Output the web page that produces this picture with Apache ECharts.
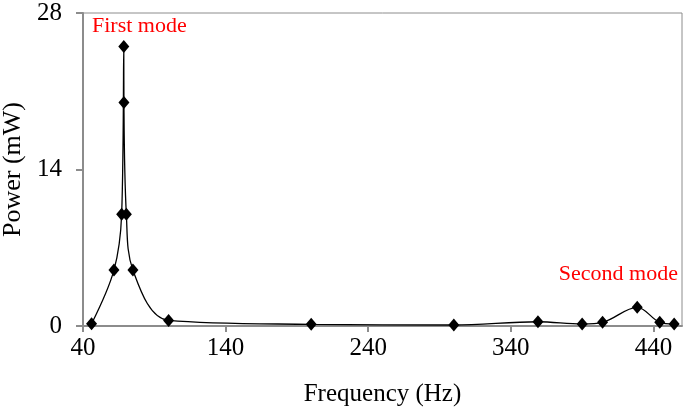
<!DOCTYPE html>
<html>
<head>
<meta charset="utf-8">
<script src="https://cdn.jsdelivr.net/npm/echarts@6/dist/echarts.min.js"></script>
<style>
  html, body { margin: 0; padding: 0; background: #fff; }
  #chart { width: 685px; height: 411px; }
</style>
</head>
<body>
<div id="chart"></div>
<script>
const freq = [46, 61.7, 67.1, 68.6, 68.7, 70.4, 75, 100, 200, 300, 359, 390, 404.3, 428.6, 444.4, 454.5];
const power = [0.2, 5.0, 10.0, 25.0, 20.0, 10.0, 5.0, 0.5, 0.15, 0.09, 0.38, 0.18, 0.33, 1.67, 0.33, 0.18];
const yTicks = [0, 14, 28];

const font = 'Liberation Serif, Times New Roman, serif';
const axisGray = '#8c8c8c';

const chart = echarts.init(document.getElementById('chart'));

chart.setOption({
    backgroundColor: '#fff',
    animation: false,
    grid: {
        left: 83, right: 3, top: 13, bottom: 85,
        outerBoundsMode: 'none',
        containLabel: false,
        show: true,
        borderColor: axisGray,
        borderWidth: 1
    },
    xAxis: {
        type: 'value',
        min: 40,
        max: 460,
        interval: 100,
        name: 'Frequency (Hz)',
        nameLocation: 'middle',
        nameGap: 56,
        nameTextStyle: { fontFamily: font, fontSize: 25, color: '#000' },
        axisLine: { lineStyle: { color: axisGray, width: 2 } },
        axisTick: { length: 6, lineStyle: { color: axisGray, width: 2 } },
        axisLabel: {
            fontFamily: font, fontSize: 25, color: '#000', margin: 10,
            showMaxLabel: false
        },
        splitLine: { show: false }
    },
    yAxis: {
        type: 'value',
        min: yTicks[0],
        max: yTicks[yTicks.length - 1],
        interval: 14,
        name: 'Power (mW)',
        nameLocation: 'middle',
        nameGap: 56,
        nameTextStyle: { fontFamily: font, fontSize: 26, color: '#000' },
        axisLine: { show: true, lineStyle: { color: axisGray, width: 2 } },
        axisTick: { show: true, length: 7, lineStyle: { color: axisGray, width: 2 } },
        axisLabel: { fontFamily: font, fontSize: 25, color: '#000', margin: 21 },
        splitLine: { show: false }
    },
    graphic: [
        {
            type: 'text',
            left: 92,
            top: 15,
            style: { text: 'First mode', fill: '#ff0000', font: '22px ' + font }
        },
        {
            type: 'text',
            right: 7,
            top: 263,
            style: { text: 'Second mode', fill: '#ff0000', font: '22px ' + font }
        }
    ],
    series: [
        {
            type: 'line',
            data: freq.map((f, i) => [f, power[i]]),
            smooth: 0.35,
            symbol: 'diamond',
            symbolSize: [11, 13],
            itemStyle: { color: '#000' },
            lineStyle: { color: '#000', width: 1.3 }
        }
    ]
});
</script>
</body>
</html>
